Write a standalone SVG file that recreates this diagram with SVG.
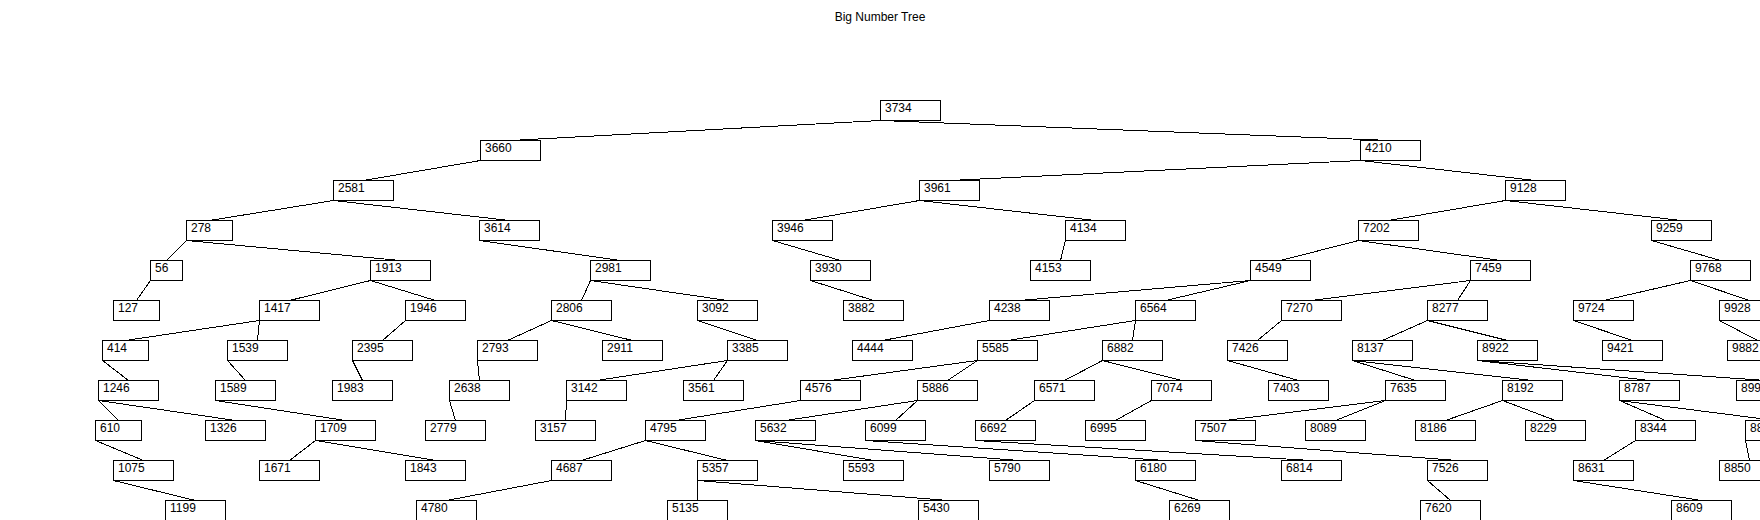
<svg xmlns="http://www.w3.org/2000/svg" width="1760" height="520" viewBox="0 0 1760 520">
<style>
.n rect{fill:#fff;stroke:#000;stroke-width:1;shape-rendering:crispEdges}
.n text,.title{font-family:"Liberation Sans",Arial,sans-serif;font-size:12px;fill:#000}
#connectors line{stroke:#000;stroke-width:1;shape-rendering:crispEdges}
</style>
<rect x="0" y="0" width="1760" height="520" fill="#fff"/>
<text class="title" x="880" y="21" text-anchor="middle">Big Number Tree</text>
<g id="connectors" transform="translate(0.5 0.5)">
<line x1="880" y1="120" x2="510" y2="140"/>
<line x1="880" y1="120" x2="1390" y2="140"/>
<line x1="480" y1="160" x2="363" y2="180"/>
<line x1="1360" y1="160" x2="949" y2="180"/>
<line x1="1360" y1="160" x2="1535" y2="180"/>
<line x1="333" y1="200" x2="209" y2="220"/>
<line x1="333" y1="200" x2="509" y2="220"/>
<line x1="919" y1="200" x2="802" y2="220"/>
<line x1="919" y1="200" x2="1095" y2="220"/>
<line x1="1505" y1="200" x2="1388" y2="220"/>
<line x1="1505" y1="200" x2="1681" y2="220"/>
<line x1="186" y1="240" x2="166" y2="260"/>
<line x1="186" y1="240" x2="400" y2="260"/>
<line x1="479" y1="240" x2="620" y2="260"/>
<line x1="772" y1="240" x2="840" y2="260"/>
<line x1="1065" y1="240" x2="1060" y2="260"/>
<line x1="1358" y1="240" x2="1280" y2="260"/>
<line x1="1358" y1="240" x2="1500" y2="260"/>
<line x1="1651" y1="240" x2="1720" y2="260"/>
<line x1="150" y1="280" x2="136" y2="300"/>
<line x1="370" y1="280" x2="289" y2="300"/>
<line x1="370" y1="280" x2="435" y2="300"/>
<line x1="590" y1="280" x2="581" y2="300"/>
<line x1="590" y1="280" x2="727" y2="300"/>
<line x1="810" y1="280" x2="873" y2="300"/>
<line x1="1250" y1="280" x2="1019" y2="300"/>
<line x1="1250" y1="280" x2="1165" y2="300"/>
<line x1="1470" y1="280" x2="1311" y2="300"/>
<line x1="1470" y1="280" x2="1457" y2="300"/>
<line x1="1690" y1="280" x2="1603" y2="300"/>
<line x1="1690" y1="280" x2="1749" y2="300"/>
<line x1="259" y1="320" x2="125" y2="340"/>
<line x1="259" y1="320" x2="257" y2="340"/>
<line x1="405" y1="320" x2="382" y2="340"/>
<line x1="551" y1="320" x2="507" y2="340"/>
<line x1="551" y1="320" x2="632" y2="340"/>
<line x1="697" y1="320" x2="757" y2="340"/>
<line x1="989" y1="320" x2="882" y2="340"/>
<line x1="1135" y1="320" x2="1007" y2="340"/>
<line x1="1135" y1="320" x2="1132" y2="340"/>
<line x1="1281" y1="320" x2="1257" y2="340"/>
<line x1="1427" y1="320" x2="1382" y2="340"/>
<line x1="1427" y1="320" x2="1507" y2="340"/>
<line x1="1573" y1="320" x2="1632" y2="340"/>
<line x1="1719" y1="320" x2="1757" y2="340"/>
<line x1="102" y1="360" x2="128" y2="380"/>
<line x1="227" y1="360" x2="245" y2="380"/>
<line x1="352" y1="360" x2="362" y2="380"/>
<line x1="477" y1="360" x2="479" y2="380"/>
<line x1="727" y1="360" x2="596" y2="380"/>
<line x1="727" y1="360" x2="713" y2="380"/>
<line x1="977" y1="360" x2="830" y2="380"/>
<line x1="977" y1="360" x2="947" y2="380"/>
<line x1="1102" y1="360" x2="1064" y2="380"/>
<line x1="1102" y1="360" x2="1181" y2="380"/>
<line x1="1227" y1="360" x2="1298" y2="380"/>
<line x1="1352" y1="360" x2="1415" y2="380"/>
<line x1="1352" y1="360" x2="1532" y2="380"/>
<line x1="1477" y1="360" x2="1649" y2="380"/>
<line x1="1477" y1="360" x2="1766" y2="380"/>
<line x1="98" y1="400" x2="118" y2="420"/>
<line x1="98" y1="400" x2="235" y2="420"/>
<line x1="215" y1="400" x2="345" y2="420"/>
<line x1="449" y1="400" x2="455" y2="420"/>
<line x1="566" y1="400" x2="565" y2="420"/>
<line x1="800" y1="400" x2="675" y2="420"/>
<line x1="917" y1="400" x2="785" y2="420"/>
<line x1="917" y1="400" x2="895" y2="420"/>
<line x1="1034" y1="400" x2="1005" y2="420"/>
<line x1="1151" y1="400" x2="1115" y2="420"/>
<line x1="1385" y1="400" x2="1225" y2="420"/>
<line x1="1385" y1="400" x2="1335" y2="420"/>
<line x1="1502" y1="400" x2="1445" y2="420"/>
<line x1="1502" y1="400" x2="1555" y2="420"/>
<line x1="1619" y1="400" x2="1665" y2="420"/>
<line x1="1619" y1="400" x2="1775" y2="420"/>
<line x1="95" y1="440" x2="143" y2="460"/>
<line x1="315" y1="440" x2="289" y2="460"/>
<line x1="315" y1="440" x2="435" y2="460"/>
<line x1="645" y1="440" x2="581" y2="460"/>
<line x1="645" y1="440" x2="727" y2="460"/>
<line x1="755" y1="440" x2="873" y2="460"/>
<line x1="755" y1="440" x2="1019" y2="460"/>
<line x1="865" y1="440" x2="1165" y2="460"/>
<line x1="975" y1="440" x2="1311" y2="460"/>
<line x1="1195" y1="440" x2="1457" y2="460"/>
<line x1="1635" y1="440" x2="1603" y2="460"/>
<line x1="1745" y1="440" x2="1749" y2="460"/>
<line x1="113" y1="480" x2="195" y2="500"/>
<line x1="551" y1="480" x2="446" y2="500"/>
<line x1="697" y1="480" x2="697" y2="500"/>
<line x1="697" y1="480" x2="948" y2="500"/>
<line x1="1135" y1="480" x2="1199" y2="500"/>
<line x1="1427" y1="480" x2="1450" y2="500"/>
<line x1="1573" y1="480" x2="1701" y2="500"/>
</g>
<g id="n3734" class="n"><rect x="880.5" y="100.5" width="60" height="20"/><text x="885" y="112">3734</text></g>
<g id="n3660" class="n"><rect x="480.5" y="140.5" width="60" height="20"/><text x="485" y="152">3660</text></g>
<g id="n4210" class="n"><rect x="1360.5" y="140.5" width="60" height="20"/><text x="1365" y="152">4210</text></g>
<g id="n2581" class="n"><rect x="333.5" y="180.5" width="60" height="20"/><text x="338" y="192">2581</text></g>
<g id="n3961" class="n"><rect x="919.5" y="180.5" width="60" height="20"/><text x="924" y="192">3961</text></g>
<g id="n9128" class="n"><rect x="1505.5" y="180.5" width="60" height="20"/><text x="1510" y="192">9128</text></g>
<g id="n278" class="n"><rect x="186.5" y="220.5" width="46" height="20"/><text x="191" y="232">278</text></g>
<g id="n3614" class="n"><rect x="479.5" y="220.5" width="60" height="20"/><text x="484" y="232">3614</text></g>
<g id="n3946" class="n"><rect x="772.5" y="220.5" width="60" height="20"/><text x="777" y="232">3946</text></g>
<g id="n4134" class="n"><rect x="1065.5" y="220.5" width="60" height="20"/><text x="1070" y="232">4134</text></g>
<g id="n7202" class="n"><rect x="1358.5" y="220.5" width="60" height="20"/><text x="1363" y="232">7202</text></g>
<g id="n9259" class="n"><rect x="1651.5" y="220.5" width="60" height="20"/><text x="1656" y="232">9259</text></g>
<g id="n56" class="n"><rect x="150.5" y="260.5" width="32" height="20"/><text x="155" y="272">56</text></g>
<g id="n1913" class="n"><rect x="370.5" y="260.5" width="60" height="20"/><text x="375" y="272">1913</text></g>
<g id="n2981" class="n"><rect x="590.5" y="260.5" width="60" height="20"/><text x="595" y="272">2981</text></g>
<g id="n3930" class="n"><rect x="810.5" y="260.5" width="60" height="20"/><text x="815" y="272">3930</text></g>
<g id="n4153" class="n"><rect x="1030.5" y="260.5" width="60" height="20"/><text x="1035" y="272">4153</text></g>
<g id="n4549" class="n"><rect x="1250.5" y="260.5" width="60" height="20"/><text x="1255" y="272">4549</text></g>
<g id="n7459" class="n"><rect x="1470.5" y="260.5" width="60" height="20"/><text x="1475" y="272">7459</text></g>
<g id="n9768" class="n"><rect x="1690.5" y="260.5" width="60" height="20"/><text x="1695" y="272">9768</text></g>
<g id="n127" class="n"><rect x="113.5" y="300.5" width="46" height="20"/><text x="118" y="312">127</text></g>
<g id="n1417" class="n"><rect x="259.5" y="300.5" width="60" height="20"/><text x="264" y="312">1417</text></g>
<g id="n1946" class="n"><rect x="405.5" y="300.5" width="60" height="20"/><text x="410" y="312">1946</text></g>
<g id="n2806" class="n"><rect x="551.5" y="300.5" width="60" height="20"/><text x="556" y="312">2806</text></g>
<g id="n3092" class="n"><rect x="697.5" y="300.5" width="60" height="20"/><text x="702" y="312">3092</text></g>
<g id="n3882" class="n"><rect x="843.5" y="300.5" width="60" height="20"/><text x="848" y="312">3882</text></g>
<g id="n4238" class="n"><rect x="989.5" y="300.5" width="60" height="20"/><text x="994" y="312">4238</text></g>
<g id="n6564" class="n"><rect x="1135.5" y="300.5" width="60" height="20"/><text x="1140" y="312">6564</text></g>
<g id="n7270" class="n"><rect x="1281.5" y="300.5" width="60" height="20"/><text x="1286" y="312">7270</text></g>
<g id="n8277" class="n"><rect x="1427.5" y="300.5" width="60" height="20"/><text x="1432" y="312">8277</text></g>
<g id="n9724" class="n"><rect x="1573.5" y="300.5" width="60" height="20"/><text x="1578" y="312">9724</text></g>
<g id="n9928" class="n"><rect x="1719.5" y="300.5" width="60" height="20"/><text x="1724" y="312">9928</text></g>
<g id="n414" class="n"><rect x="102.5" y="340.5" width="46" height="20"/><text x="107" y="352">414</text></g>
<g id="n1539" class="n"><rect x="227.5" y="340.5" width="60" height="20"/><text x="232" y="352">1539</text></g>
<g id="n2395" class="n"><rect x="352.5" y="340.5" width="60" height="20"/><text x="357" y="352">2395</text></g>
<g id="n2793" class="n"><rect x="477.5" y="340.5" width="60" height="20"/><text x="482" y="352">2793</text></g>
<g id="n2911" class="n"><rect x="602.5" y="340.5" width="60" height="20"/><text x="607" y="352">2911</text></g>
<g id="n3385" class="n"><rect x="727.5" y="340.5" width="60" height="20"/><text x="732" y="352">3385</text></g>
<g id="n4444" class="n"><rect x="852.5" y="340.5" width="60" height="20"/><text x="857" y="352">4444</text></g>
<g id="n5585" class="n"><rect x="977.5" y="340.5" width="60" height="20"/><text x="982" y="352">5585</text></g>
<g id="n6882" class="n"><rect x="1102.5" y="340.5" width="60" height="20"/><text x="1107" y="352">6882</text></g>
<g id="n7426" class="n"><rect x="1227.5" y="340.5" width="60" height="20"/><text x="1232" y="352">7426</text></g>
<g id="n8137" class="n"><rect x="1352.5" y="340.5" width="60" height="20"/><text x="1357" y="352">8137</text></g>
<g id="n8922" class="n"><rect x="1477.5" y="340.5" width="60" height="20"/><text x="1482" y="352">8922</text></g>
<g id="n9421" class="n"><rect x="1602.5" y="340.5" width="60" height="20"/><text x="1607" y="352">9421</text></g>
<g id="n9882" class="n"><rect x="1727.5" y="340.5" width="60" height="20"/><text x="1732" y="352">9882</text></g>
<g id="n1246" class="n"><rect x="98.5" y="380.5" width="60" height="20"/><text x="103" y="392">1246</text></g>
<g id="n1589" class="n"><rect x="215.5" y="380.5" width="60" height="20"/><text x="220" y="392">1589</text></g>
<g id="n1983" class="n"><rect x="332.5" y="380.5" width="60" height="20"/><text x="337" y="392">1983</text></g>
<g id="n2638" class="n"><rect x="449.5" y="380.5" width="60" height="20"/><text x="454" y="392">2638</text></g>
<g id="n3142" class="n"><rect x="566.5" y="380.5" width="60" height="20"/><text x="571" y="392">3142</text></g>
<g id="n3561" class="n"><rect x="683.5" y="380.5" width="60" height="20"/><text x="688" y="392">3561</text></g>
<g id="n4576" class="n"><rect x="800.5" y="380.5" width="60" height="20"/><text x="805" y="392">4576</text></g>
<g id="n5886" class="n"><rect x="917.5" y="380.5" width="60" height="20"/><text x="922" y="392">5886</text></g>
<g id="n6571" class="n"><rect x="1034.5" y="380.5" width="60" height="20"/><text x="1039" y="392">6571</text></g>
<g id="n7074" class="n"><rect x="1151.5" y="380.5" width="60" height="20"/><text x="1156" y="392">7074</text></g>
<g id="n7403" class="n"><rect x="1268.5" y="380.5" width="60" height="20"/><text x="1273" y="392">7403</text></g>
<g id="n7635" class="n"><rect x="1385.5" y="380.5" width="60" height="20"/><text x="1390" y="392">7635</text></g>
<g id="n8192" class="n"><rect x="1502.5" y="380.5" width="60" height="20"/><text x="1507" y="392">8192</text></g>
<g id="n8787" class="n"><rect x="1619.5" y="380.5" width="60" height="20"/><text x="1624" y="392">8787</text></g>
<g id="n899x" class="n"><rect x="1736.5" y="380.5" width="60" height="20"/><text x="1741" y="392">899</text></g>
<g id="n610" class="n"><rect x="95.5" y="420.5" width="46" height="20"/><text x="100" y="432">610</text></g>
<g id="n1326" class="n"><rect x="205.5" y="420.5" width="60" height="20"/><text x="210" y="432">1326</text></g>
<g id="n1709" class="n"><rect x="315.5" y="420.5" width="60" height="20"/><text x="320" y="432">1709</text></g>
<g id="n2779" class="n"><rect x="425.5" y="420.5" width="60" height="20"/><text x="430" y="432">2779</text></g>
<g id="n3157" class="n"><rect x="535.5" y="420.5" width="60" height="20"/><text x="540" y="432">3157</text></g>
<g id="n4795" class="n"><rect x="645.5" y="420.5" width="60" height="20"/><text x="650" y="432">4795</text></g>
<g id="n5632" class="n"><rect x="755.5" y="420.5" width="60" height="20"/><text x="760" y="432">5632</text></g>
<g id="n6099" class="n"><rect x="865.5" y="420.5" width="60" height="20"/><text x="870" y="432">6099</text></g>
<g id="n6692" class="n"><rect x="975.5" y="420.5" width="60" height="20"/><text x="980" y="432">6692</text></g>
<g id="n6995" class="n"><rect x="1085.5" y="420.5" width="60" height="20"/><text x="1090" y="432">6995</text></g>
<g id="n7507" class="n"><rect x="1195.5" y="420.5" width="60" height="20"/><text x="1200" y="432">7507</text></g>
<g id="n8089" class="n"><rect x="1305.5" y="420.5" width="60" height="20"/><text x="1310" y="432">8089</text></g>
<g id="n8186" class="n"><rect x="1415.5" y="420.5" width="60" height="20"/><text x="1420" y="432">8186</text></g>
<g id="n8229" class="n"><rect x="1525.5" y="420.5" width="60" height="20"/><text x="1530" y="432">8229</text></g>
<g id="n8344" class="n"><rect x="1635.5" y="420.5" width="60" height="20"/><text x="1640" y="432">8344</text></g>
<g id="n88xx" class="n"><rect x="1745.5" y="420.5" width="60" height="20"/><text x="1750" y="432">88</text></g>
<g id="n1075" class="n"><rect x="113.5" y="460.5" width="60" height="20"/><text x="118" y="472">1075</text></g>
<g id="n1671" class="n"><rect x="259.5" y="460.5" width="60" height="20"/><text x="264" y="472">1671</text></g>
<g id="n1843" class="n"><rect x="405.5" y="460.5" width="60" height="20"/><text x="410" y="472">1843</text></g>
<g id="n4687" class="n"><rect x="551.5" y="460.5" width="60" height="20"/><text x="556" y="472">4687</text></g>
<g id="n5357" class="n"><rect x="697.5" y="460.5" width="60" height="20"/><text x="702" y="472">5357</text></g>
<g id="n5593" class="n"><rect x="843.5" y="460.5" width="60" height="20"/><text x="848" y="472">5593</text></g>
<g id="n5790" class="n"><rect x="989.5" y="460.5" width="60" height="20"/><text x="994" y="472">5790</text></g>
<g id="n6180" class="n"><rect x="1135.5" y="460.5" width="60" height="20"/><text x="1140" y="472">6180</text></g>
<g id="n6814" class="n"><rect x="1281.5" y="460.5" width="60" height="20"/><text x="1286" y="472">6814</text></g>
<g id="n7526" class="n"><rect x="1427.5" y="460.5" width="60" height="20"/><text x="1432" y="472">7526</text></g>
<g id="n8631" class="n"><rect x="1573.5" y="460.5" width="60" height="20"/><text x="1578" y="472">8631</text></g>
<g id="n8850" class="n"><rect x="1719.5" y="460.5" width="60" height="20"/><text x="1724" y="472">8850</text></g>
<g id="n1199" class="n"><rect x="165.5" y="500.5" width="60" height="20"/><text x="170" y="512">1199</text></g>
<g id="n4780" class="n"><rect x="416.5" y="500.5" width="60" height="20"/><text x="421" y="512">4780</text></g>
<g id="n5135" class="n"><rect x="667.5" y="500.5" width="60" height="20"/><text x="672" y="512">5135</text></g>
<g id="n5430" class="n"><rect x="918.5" y="500.5" width="60" height="20"/><text x="923" y="512">5430</text></g>
<g id="n6269" class="n"><rect x="1169.5" y="500.5" width="60" height="20"/><text x="1174" y="512">6269</text></g>
<g id="n7620" class="n"><rect x="1420.5" y="500.5" width="60" height="20"/><text x="1425" y="512">7620</text></g>
<g id="n8609" class="n"><rect x="1671.5" y="500.5" width="60" height="20"/><text x="1676" y="512">8609</text></g>
</svg>
